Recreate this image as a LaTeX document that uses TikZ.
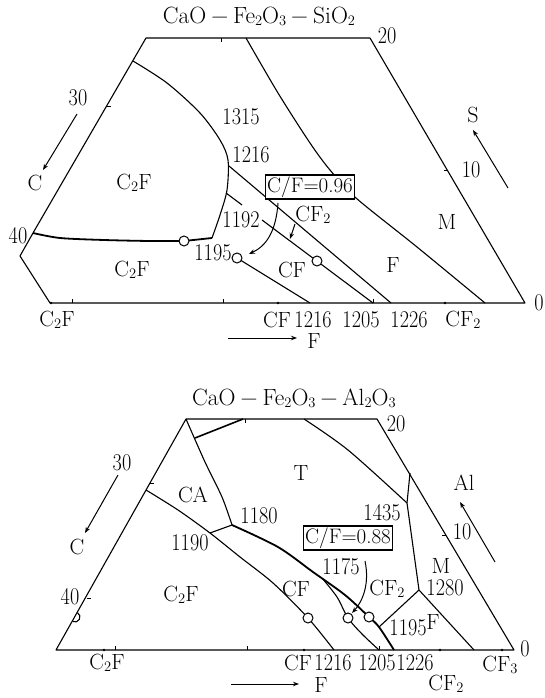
\documentclass[tikz,border=0pt]{standalone}
\usepackage{fontspec}
\usepackage{graphicx}
\usetikzlibrary{arrows.meta}
\newcommand\nn[1]{\scalebox{0.84}[1]{#1}}
\newcommand\sbs[1]{\raisebox{-2pt}{\fontsize{14.5}{14.5}\selectfont #1}}
\tikzset{
  lbl/.style={font=\fontsize{22}{24}\selectfont, inner sep=0pt},
  num/.style={font=\fontsize{24}{26}\selectfont, inner sep=0pt},
  ttl/.style={font=\fontsize{23.5}{26}\selectfont, inner sep=0pt},
  edge/.style={line width=1.1pt, line join=round},
  bnd/.style={line width=1.1pt},
  bndthick/.style={line width=1.8pt},
  ring/.style={circle, draw, fill=white, line width=1pt, minimum size=10pt, inner sep=0pt},
  cfbox/.style={draw, fill=white, line width=1.1pt, inner sep=1.5pt, font=\fontsize{21}{24}\selectfont},
  arr/.style={line width=1pt, -{Stealth[length=6pt,width=4.5pt]}},
  tick/.style={line width=0.9pt},
}
\begin{document}
\begin{tikzpicture}[x=1pt,y=-1pt]
\useasboundingbox (0,0) rectangle (545,698);

%%%%%%%%%%%%%%%% TOP DIAGRAM %%%%%%%%%%%%%%%%
\coordinate (aTL) at (146,38);
\coordinate (aTR) at (370,38);
\coordinate (aR) at (525,303);
\coordinate (aBL) at (50,303);
\coordinate (aK) at (20,256);
\coordinate (a40) at (33,233);
\draw[edge] (aBL) -- (aR) -- (aTR) -- (aTL) -- (a40) -- (aK) -- cycle;

% ticks
\draw[tick] (221,38) -- ++(0,4);
\draw[tick] (107,106) -- ++(4,0);
\draw[tick] (448,170) -- ++(-4,0);
\foreach \xx in {72,223,373} {\draw[tick] (\xx,303) -- ++(0,-4);}
\foreach \xx in {51,278,445} {\fill (\xx,303) circle (1.4);}

% boundaries
\coordinate (p1216) at (229,166);
\coordinate (p1192) at (226,193);
\coordinate (pE) at (212,238);
\coordinate (q1) at (242,205);
\coordinate (q2) at (262,220);
\coordinate (b1216) at (310,303);
\coordinate (b1205) at (373,303);
\coordinate (b1226) at (391,303);
\coordinate (cc1) at (184,241);
\coordinate (cc1195) at (237,258);
\coordinate (ccCF) at (317,261);

\draw[bnd] plot[smooth] coordinates {(133,61) (167,83) (200,113) (220,140) (228,160) (227,190) (220,215) (212,238)};
\draw[bndthick] plot[smooth] coordinates {(33,233) (60,238) (104,240) (150,241) (184,241)};
\draw[bndthick] (cc1) -- (pE);
\draw[bnd] (cc1195) -- (b1216);
\draw[bnd] (p1192) -- (q1);
\draw[bnd] (q2) -- (b1205);
\draw[bnd] (p1216) -- (b1226);
\draw[bnd] plot[smooth] coordinates {(246,38) (278,93) (310,143) (330,170) (356,198) (417,247) (485,303)};

\node[ring] (c1) at (cc1) {};
\node[ring] (c1195) at (cc1195) {};
\node[ring] (cCF) at (ccCF) {};

\node[cfbox] (boxA) at (310,187) {C/F=0.96};
\coordinate (arA1) at (278,203);
\coordinate (arA2) at (249,254);
\draw[arr] (arA1) .. controls (276,232) and (266,246) .. (arA2);
\coordinate (arB1) at (295,224);
\coordinate (arB2) at (290,239);
\draw[arr] (arB1) -- (arB2);

% axis arrows
\coordinate (ac1) at (77,114); \coordinate (ac2) at (43,170);
\draw[arr] (ac1) -- (ac2);
\coordinate (as1) at (508,188); \coordinate (as2) at (473,130);
\draw[arr] (as1) -- (as2);
\coordinate (af1) at (228,338); \coordinate (af2) at (297,338);
\draw[arr] (af1) -- (af2);

% labels
\node[ttl] (titleA) at (259,16) {CaO\hspace{5pt}−\hspace{5pt}Fe\sbs{2}O\sbs{3}\hspace{5pt}−\hspace{5pt}SiO\sbs{2}};
\node[num] (a20) at (387,36) {\nn{20}};
\node[num] (a30) at (78,98) {\nn{30}};
\node[lbl] (aC) at (35,183) {C};
\node[num] (a40l) at (18,236) {\nn{40}};
\node[lbl] (aS) at (473,115) {S};
\node[num] (a10) at (471,170) {\nn{10}};
\node[num] (a0) at (539,303) {\nn{0}};
\node[num] (a1315) at (241,117) {\nn{1315}};
\node[num] (a1216) at (251,155) {\nn{1216}};
\node[lbl] (aC2F1) at (134,183) {C\sbs{2}F};
\node[num] (a1192) at (241,220) {\nn{1192}};
\node[lbl] (aCF2) at (313,215) {CF\sbs{2}};
\node[lbl] (aM) at (447,222) {M};
\node[num] (a1195) at (213,253) {\nn{1195}};
\node[lbl] (aC2F2) at (132,270) {C\sbs{2}F};
\node[lbl] (aCF) at (292,270) {CF};
\node[lbl] (aF) at (393,265) {F};
\node[lbl] (aBC2F) at (57,320) {C\sbs{2}F};
\node[lbl] (aBCF) at (277,320) {CF};
\node[num] (aB1216) at (313,320) {\nn{1216}};
\node[num] (aB1205) at (361,320) {\nn{1205}};
\node[num] (aB1226) at (409,320) {\nn{1226}};
\node[lbl] (aBCF2) at (463,320) {CF\sbs{2}};
\node[lbl] (aBF) at (314,341) {F};

%%%%%%%%%%%%%%%% BOTTOM DIAGRAM %%%%%%%%%%%%%%%%
\coordinate (bTL) at (186,419);
\coordinate (bTR) at (377,419);
\coordinate (bR) at (514,650);
\coordinate (bBL) at (56,650);
\draw[edge] (bBL) -- (bR) -- (bTR) -- (bTL) -- cycle;

\draw[tick] (245,419) -- ++(0,4);
\draw[tick] (150,483) -- ++(4,0);
\draw[tick] (87,598) -- ++(4,0);
\draw[tick] (446,535) -- ++(-4,0);
\foreach \xx in {115,247,379} {\draw[tick] (\xx,650) -- ++(0,-4);}
\foreach \xx in {104,304,440,502} {\fill (\xx,650) circle (1.4);}
\coordinate (hc) at (75,617);
\draw[bnd] (hc) ++(119.4:5) arc[start angle=119.4, end angle=-60.6, radius=5];

\coordinate (p1180) at (232,525);
\coordinate (p1190) at (210,533);
\coordinate (p1435) at (407,503);
\coordinate (pRe) at (410,473);
\coordinate (p1280) at (419,590);
\coordinate (p1195) at (379,627);
\coordinate (e1) at (195,438);
\coordinate (e2) at (243,419);
\coordinate (bM) at (474,650);
\coordinate (ccA) at (308,618);
\coordinate (ccD) at (348,618);
\coordinate (ccC) at (369,617);

\draw[bnd] plot[smooth] coordinates {(186,419) (205,462) (222,497) (232,525)};
\draw[line width=1.6pt] (e1) -- (e2);
\draw[bnd] plot[smooth] coordinates {(304,419) (348,450) (407,503)};
\draw[bnd] (pRe) -- (p1435) -- (p1280);
\draw[bnd] (p1280) -- (bM);
\draw[bnd] (p1280) -- (p1195);
\draw[bnd] plot[smooth] coordinates {(146,490) (178,510) (210,533) (240,557) (273,583) (308,618) (334,650)};
\draw[bnd] (p1190) -- (p1180);
\draw[bndthick] plot[smooth] coordinates {(232,525) (278,547) (313,572) (345,595) (369,617) (379,627) (394,650)};
\draw[bnd] plot[smooth] coordinates {(322,578) (337,597) (348,618) (362,634) (379,650)};

\node[ring] (cA) at (ccA) {};
\node[ring] (cD) at (ccD) {};
\node[ring] (cC) at (ccC) {};

\node[cfbox] (boxB) at (348,538) {C/F=0.88};
\coordinate (arC1) at (365,561);
\coordinate (arC2) at (352,613);
\draw[arr] (arC1) .. controls (370,585) and (362,602) .. (arC2);

\coordinate (bc1) at (118,475); \coordinate (bc2) at (85,533);
\draw[arr] (bc1) -- (bc2);
\coordinate (bal1) at (495,562); \coordinate (bal2) at (460,502);
\draw[arr] (bal1) -- (bal2);
\coordinate (bf1) at (231,684); \coordinate (bf2) at (299,684);
\draw[arr] (bf1) -- (bf2);

\node[ttl] (titleB) at (294,398) {CaO\hspace{5pt}−\hspace{5pt}Fe\sbs{2}O\sbs{3}\hspace{5pt}−\hspace{5pt}Al\sbs{2}O\sbs{3}};
\node[num] (b20) at (396,424) {\nn{20}};
\node[num] (b30) at (122,463) {\nn{30}};
\node[lbl] (bC) at (77,547) {C};
\node[num] (b40) at (70,597) {\nn{40}};
\node[lbl] (bAl) at (464,483) {Al};
\node[num] (b10) at (462,532) {\nn{10}};
\node[num] (b0) at (525,649) {\nn{0}};
\node[lbl] (bCA) at (193,495) {CA};
\node[lbl] (bT) at (301,473) {T};
\node[num] (b1180) at (259,516) {\nn{1180}};
\node[num] (b1190) at (190,543) {\nn{1190}};
\node[num] (b1435) at (382,513) {\nn{1435}};
\node[lbl] (bC2F) at (181,595) {C\sbs{2}F};
\node[lbl] (bCF) at (296,589) {CF};
\node[num] (b1175) at (341,567) {\nn{1175}};
\node[lbl] (bCF2) at (387,589) {CF\sbs{2}};
\node[lbl] (bM) at (441,566) {M};
\node[num] (b1280) at (445,588) {\nn{1280}};
\node[lbl] (bF) at (433,622) {F};
\node[num] (b1195) at (408,628) {\nn{1195}};
\node[lbl] (bBC2F) at (107,663) {C\sbs{2}F};
\node[lbl] (bBCF) at (298,663) {CF};
\node[num] (bB1216) at (333,663) {\nn{1216}};
\node[num] (bB1205) at (377,663) {\nn{1205}};
\node[num] (bB1226) at (415,663) {\nn{1226}};
\node[lbl] (bBCF3) at (500,665) {CF\sbs{3}};
\node[lbl] (bBF) at (321,685) {F};
\node[lbl] (bBCF2) at (446,684) {CF\sbs{2}};
\end{tikzpicture}
\end{document}
